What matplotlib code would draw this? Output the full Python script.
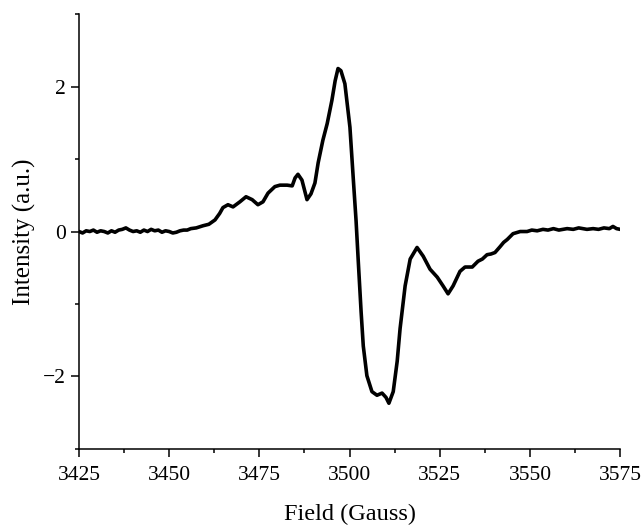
import matplotlib
matplotlib.use("Agg")
import matplotlib.pyplot as plt
from matplotlib.ticker import MultipleLocator

plt.rcParams['font.family'] = ['Liberation Serif', 'DejaVu Serif']
plt.rcParams['mathtext.fontset'] = 'stix'

field = [
    3425, 3426, 3427, 3428, 3429, 3430, 3431, 3432, 3433, 3434,
    3435, 3436, 3437, 3438, 3439, 3440, 3441, 3442, 3443, 3444,
    3445, 3446, 3447, 3448, 3449, 3450, 3451, 3452, 3453, 3454,
    3455, 3456, 3457.5, 3459.4, 3461, 3462.7, 3464.0, 3464.9, 3466.3, 3467.7,
    3469.6, 3471.3, 3473.0, 3474.6, 3476.0, 3477.4, 3479.3, 3480.7, 3482.7, 3484.1,
    3484.9, 3485.7, 3486.8, 3488.2, 3489.3, 3490.4, 3491.3, 3492.6, 3493.8, 3495.1,
    3496.0, 3496.8, 3497.6, 3498.7, 3500.1, 3501.0, 3501.8, 3502.4, 3503.2, 3503.8,
    3504.8, 3506.2, 3507.6, 3509.0, 3510.1, 3510.9, 3512.1, 3513.2, 3514.0, 3515.4,
    3516.8, 3518.7, 3520.4, 3522.3, 3524.3, 3525.9, 3527.3, 3528.7, 3530.6, 3532.0,
    3534.0, 3535.6, 3536.8, 3538.1, 3539.2, 3540.3, 3541.7, 3542.7, 3543.7, 3545.3,
    3547.3, 3549.2, 3550.5, 3552, 3553.6, 3555, 3556.5, 3558, 3560.3, 3562,
    3563.5, 3565.8, 3567.5, 3569, 3570.5, 3572, 3573.0, 3574, 3575,
]
intensity = [
    0.00, -0.02, 0.01, 0.00, 0.02, -0.01, 0.01, 0.00, -0.02, 0.01,
    -0.01, 0.02, 0.03, 0.05, 0.02, 0.00, 0.01, -0.01, 0.02, 0.00,
    0.03, 0.01, 0.02, -0.01, 0.01, 0.00, -0.02, -0.01, 0.01, 0.02,
    0.02, 0.04, 0.05, 0.08, 0.10, 0.16, 0.25, 0.33, 0.37, 0.34,
    0.41, 0.48, 0.44, 0.37, 0.41, 0.53, 0.62, 0.64, 0.64, 0.63,
    0.74, 0.79, 0.71, 0.44, 0.52, 0.67, 0.95, 1.26, 1.49, 1.81,
    2.08, 2.25, 2.22, 2.04, 1.44, 0.75, 0.15, -0.40, -1.11, -1.58,
    -1.99, -2.21, -2.26, -2.23, -2.29, -2.37, -2.21, -1.79, -1.34, -0.75,
    -0.38, -0.22, -0.34, -0.52, -0.63, -0.75, -0.86, -0.75, -0.55, -0.49,
    -0.49, -0.41, -0.38, -0.32, -0.31, -0.29, -0.21, -0.15, -0.11, -0.03,
    0.00, 0.00, 0.02, 0.01, 0.03, 0.02, 0.04, 0.02, 0.04, 0.03,
    0.05, 0.03, 0.04, 0.03, 0.05, 0.04, 0.07, 0.04, 0.03,
]

fig = plt.figure(figsize=(6.42, 5.25), dpi=100)
ax = fig.add_axes([0.123, 0.145, 0.843, 0.828])
ax.plot(field, intensity, color='black', lw=2.6, solid_joinstyle='round')

ax.set_xlim(3425, 3575)
ax.set_ylim(-3, 3)
ax.xaxis.set_major_locator(MultipleLocator(25))
ax.xaxis.set_minor_locator(MultipleLocator(12.5))
ax.yaxis.set_major_locator(MultipleLocator(2))
ax.yaxis.set_minor_locator(MultipleLocator(1))
ax.spines['top'].set_visible(False)
ax.spines['right'].set_visible(False)
for s in ('left', 'bottom'):
    ax.spines[s].set_linewidth(1.1)
ax.tick_params(which='major', direction='out', length=6, width=1.1, labelsize=15.5)
ax.tick_params(axis='x', which='major', pad=6)
ax.tick_params(which='minor', direction='out', length=3, width=1.1)
ax.set_yticks([-2, 0, 2])
ax.set_yticklabels(['\u22122', '0', '2'])

ax.set_xlabel('Field (Gauss)', fontsize=17.5, labelpad=14)
ax.set_ylabel('Intensity (a.u.)', fontsize=18, labelpad=5)

fig.savefig('out.png', dpi=100)
